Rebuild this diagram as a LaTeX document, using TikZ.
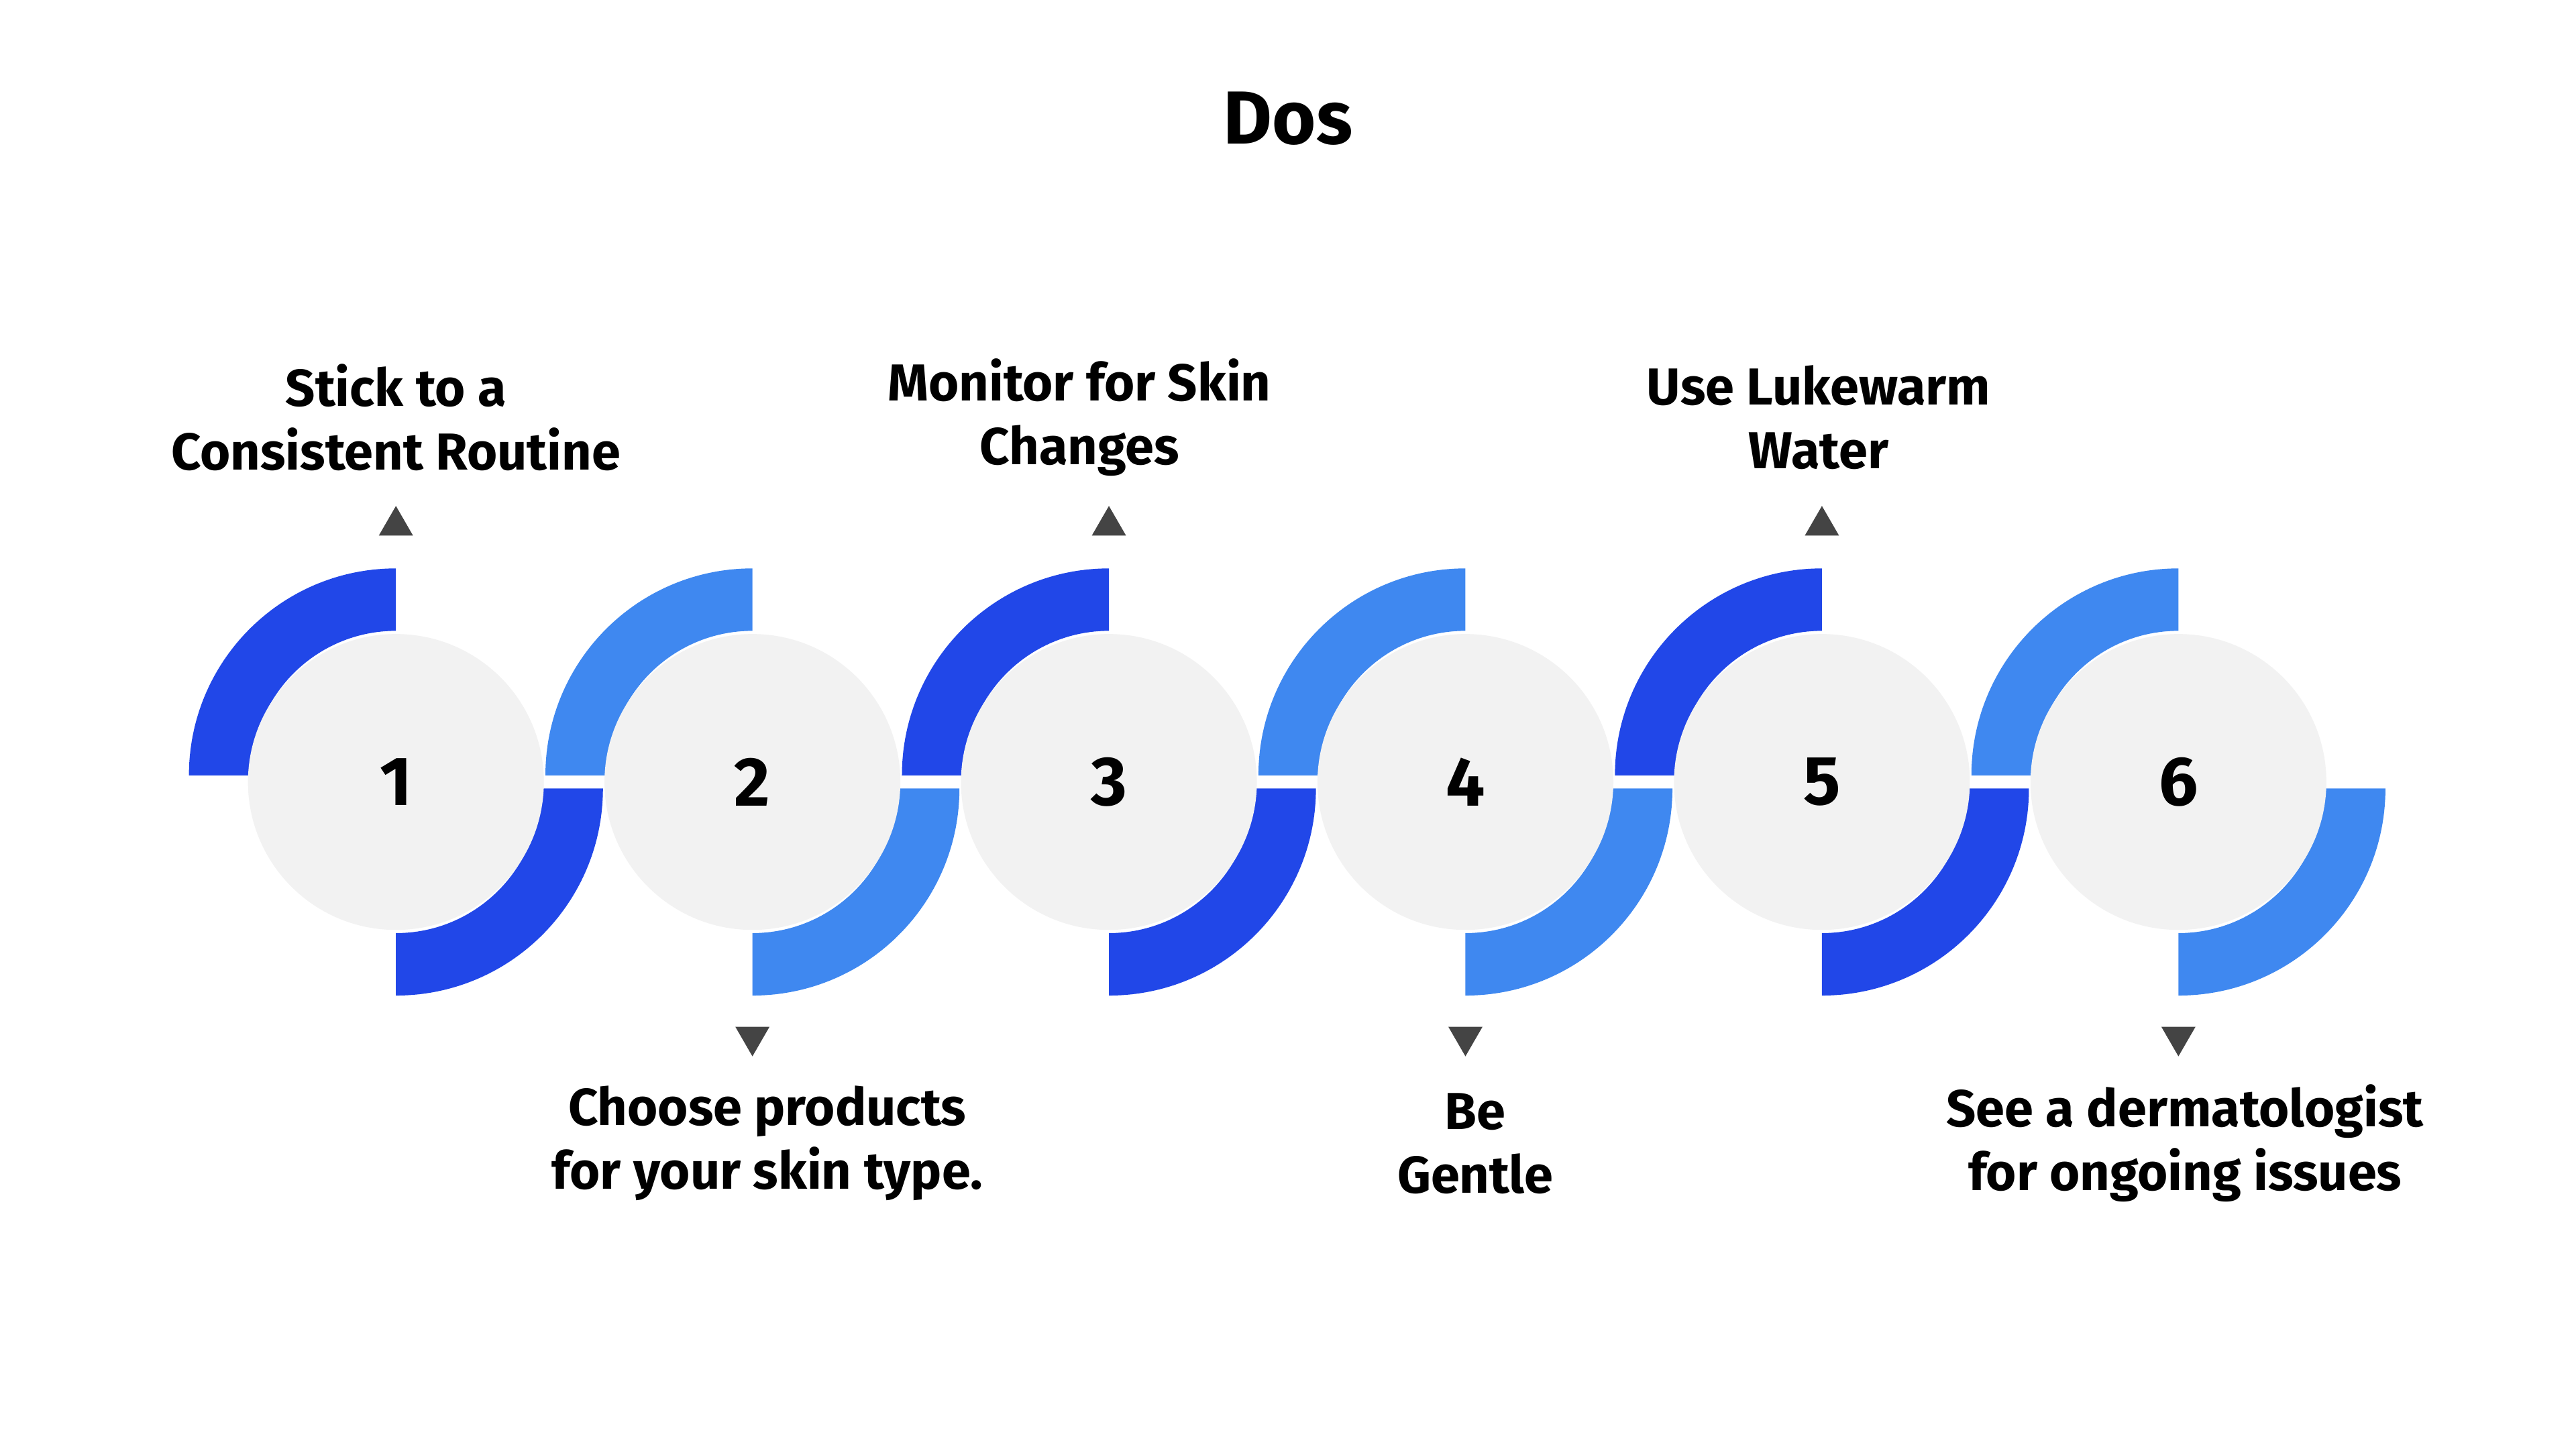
\documentclass[tikz,border=0pt]{standalone}
\usepackage{fontspec}
\setmainfont{Fira Sans}
\usetikzlibrary{shapes.geometric,positioning}
\definecolor{darkblue}{HTML}{2147E8}
\definecolor{lightblue}{HTML}{3F88F0}
\definecolor{circgray}{HTML}{F2F2F2}
\definecolor{tipgray}{HTML}{444444}
\begin{document}
\begin{tikzpicture}[x=0.01cm,y=0.01cm,
    stepcircle/.style={circle, fill=circgray, minimum size=1.8cm, inner sep=0, font=\fontsize{12}{14}\selectfont\bfseries},
    tipup/.style={regular polygon, regular polygon sides=3, fill=tipgray, minimum size=0.24cm, inner sep=0},
    tipdown/.style={tipup, shape border rotate=180},
    steplabel/.style={align=center, font=\fontsize{9}{11}\selectfont\bfseries}]
    \useasboundingbox[fill=white] (0,0) rectangle (1568,882);

    % Title
    \node[font=\fontsize{13}{15}\selectfont\bfseries] (title) at (784,810) {Dos};

    % Rings and circles
    \foreach \i/\cx/\col in {1/241/darkblue,2/458/lightblue,3/675/darkblue,4/892/lightblue,5/1109/darkblue,6/1326/lightblue}{
        \fill[\col] (\cx-126,410) arc (180:90:126) -- (\cx,498) arc (90:180:88) -- cycle;
        \fill[\col] (\cx+126,402) arc (0:-90:126) -- (\cx,314) arc (-90:0:88) -- cycle;
        \node[stepcircle] (c\i) at (\cx,406) {\i};
    }

    % Markers
    \node[tipup] (t1) at (241,562) {};
    \node[tipdown] (t2) at (458,251) {};
    \node[tipup] (t3) at (675,562) {};
    \node[tipdown] (t4) at (892,251) {};
    \node[tipup] (t5) at (1109,562) {};
    \node[tipdown] (t6) at (1326,251) {};

    % Labels
    \node[steplabel] (l1) at (241,628) {Stick to a\\Consistent Routine};
    \node[steplabel] (l2) at (467,186) {Choose products\\for your skin type.};
    \node[steplabel] (l3) at (657,628) {Monitor for Skin\\Changes};
    \node[steplabel] (l4) at (898,186) {Be\\Gentle};
    \node[steplabel] (l5) at (1107,628) {Use Lukewarm\\Water};
    \node[steplabel] (l6) at (1330,186) {See a dermatologist\\for ongoing issues};
\end{tikzpicture}
\end{document}
